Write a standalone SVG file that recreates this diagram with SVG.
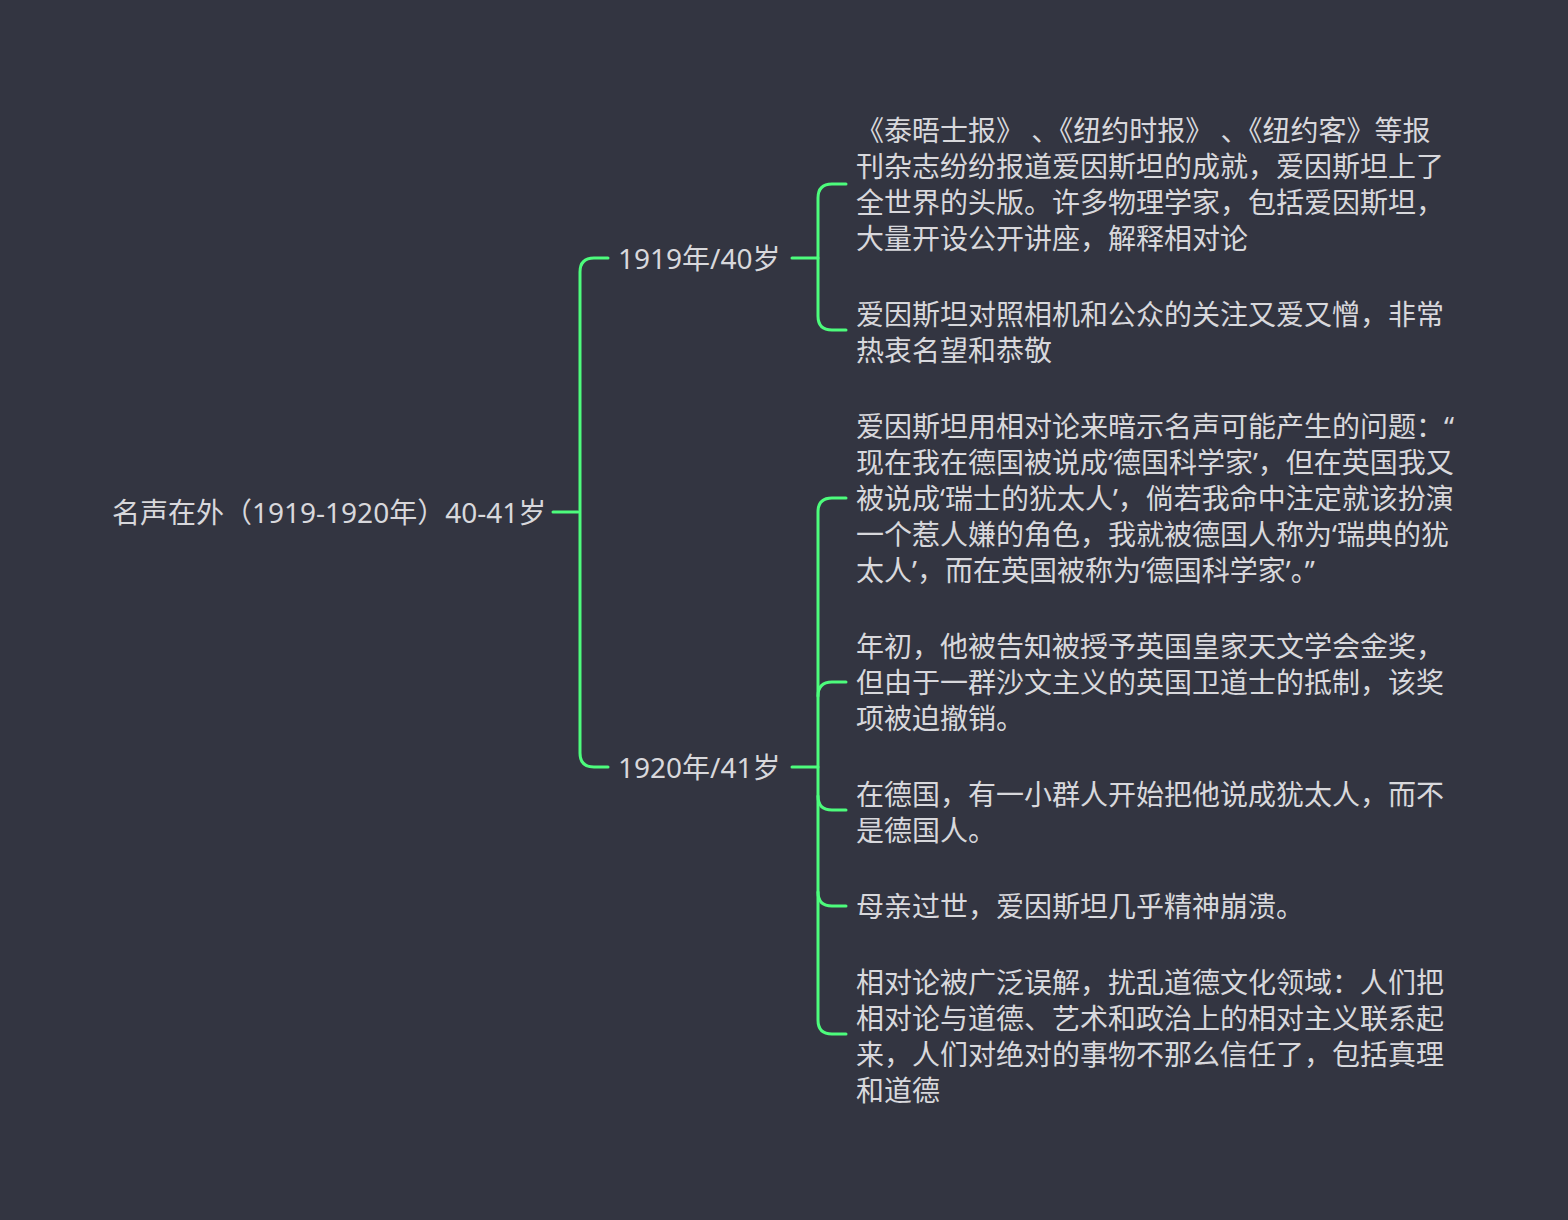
<svg xmlns="http://www.w3.org/2000/svg" width="1568" height="1220" viewBox="0 0 1568 1220">
<style>
text{font-family:"Noto Sans","Noto Sans CJK SC",sans-serif;font-size:28px;fill:#d8d8dc;dominant-baseline:central}
.c{fill:none;stroke:#4dfc7c;stroke-width:3;stroke-linecap:round}
</style>
<rect width="1568" height="1220" fill="#333541"/>
<g id="connectors">
<path class="c" d="M553 512H578"/>
<path class="c" d="M608 258H594Q580 258 580 272V753Q580 767 594 767H608"/>
<path class="c" d="M792 258H818"/>
<path class="c" d="M846 184H832Q818 184 818 198V316Q818 330 832 330H846"/>
<path class="c" d="M792 767H818"/>
<path class="c" d="M846 498H832Q818 498 818 512V1020Q818 1034 832 1034H846"/>
<path class="c" d="M818 696Q818 682 832 682H846"/>
<path class="c" d="M818 796Q818 810 832 810H846"/>
<path class="c" d="M818 892Q818 906 832 906H846"/>
</g>
<g id="root"><text x="112" y="512">名声在外（1919-1920年）40-41岁</text></g>
<g id="b1919"><text x="618" y="258">1919年/40岁</text></g>
<g id="b1920"><text x="618" y="767">1920年/41岁</text></g>
<g id="n1"><text x="856" y="130">《泰晤士报》 、《纽约时报》 、《纽约客》等报</text><text x="856" y="166">刊杂志纷纷报道爱因斯坦的成就，爱因斯坦上了</text><text x="856" y="202">全世界的头版。许多物理学家，包括爱因斯坦，</text><text x="856" y="238">大量开设公开讲座，解释相对论</text></g>
<g id="n2"><text x="856" y="314">爱因斯坦对照相机和公众的关注又爱又憎，非常</text><text x="856" y="350">热衷名望和恭敬</text></g>
<g id="n3"><text x="856" y="426">爱因斯坦用相对论来暗示名声可能产生的问题：“</text><text x="856" y="462">现在我在德国被说成‘德国科学家’，但在英国我又</text><text x="856" y="498">被说成‘瑞士的犹太人’，倘若我命中注定就该扮演</text><text x="856" y="534">一个惹人嫌的角色，我就被德国人称为‘瑞典的犹</text><text x="856" y="570">太人’，而在英国被称为‘德国科学家’。”</text></g>
<g id="n4"><text x="856" y="646">年初，他被告知被授予英国皇家天文学会金奖，</text><text x="856" y="682">但由于一群沙文主义的英国卫道士的抵制，该奖</text><text x="856" y="718">项被迫撤销。</text></g>
<g id="n5"><text x="856" y="794">在德国，有一小群人开始把他说成犹太人，而不</text><text x="856" y="830">是德国人。</text></g>
<g id="n6"><text x="856" y="906">母亲过世，爱因斯坦几乎精神崩溃。</text></g>
<g id="n7"><text x="856" y="982">相对论被广泛误解，扰乱道德文化领域：人们把</text><text x="856" y="1018">相对论与道德、艺术和政治上的相对主义联系起</text><text x="856" y="1054">来，人们对绝对的事物不那么信任了，包括真理</text><text x="856" y="1090">和道德</text></g>
</svg>
